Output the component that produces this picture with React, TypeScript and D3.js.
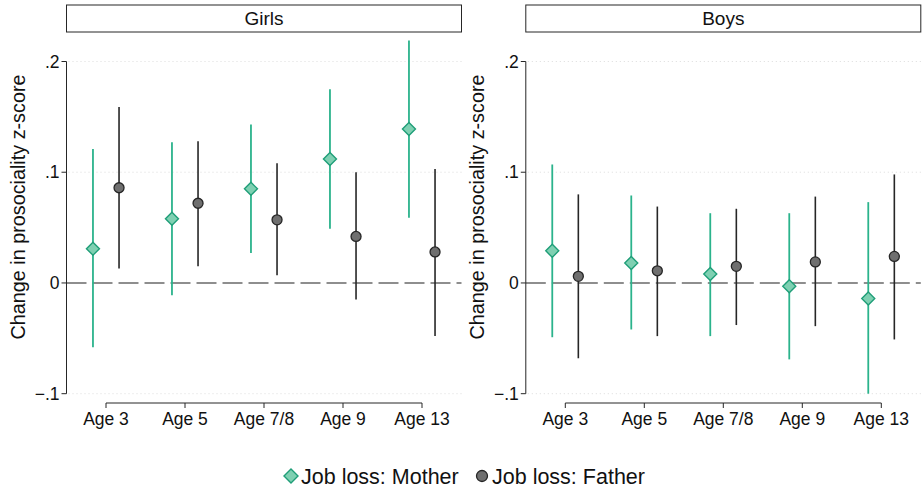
import React from 'react';
import * as d3 from 'd3';

// coefficient plot: job loss effects on prosociality by age, girls vs boys
const ages = ["Age 3", "Age 5", "Age 7/8", "Age 9", "Age 13"];
const yTicks = [-0.1, 0, 0.1, 0.2];
const yTickLabels = ["\u2212.1", "0", ".1", ".2"];

const girlsMotherEst = [0.031, 0.058, 0.085, 0.112, 0.139];
const girlsMotherLo = [-0.058, -0.011, 0.027, 0.049, 0.059];
const girlsMotherHi = [0.121, 0.127, 0.143, 0.175, 0.219];
const girlsFatherEst = [0.086, 0.072, 0.057, 0.042, 0.028];
const girlsFatherLo = [0.013, 0.015, 0.007, -0.015, -0.048];
const girlsFatherHi = [0.159, 0.128, 0.108, 0.100, 0.103];

const boysMotherEst = [0.029, 0.018, 0.008, -0.003, -0.014];
const boysMotherLo = [-0.049, -0.042, -0.048, -0.069, -0.100];
const boysMotherHi = [0.107, 0.079, 0.063, 0.063, 0.073];
const boysFatherEst = [0.006, 0.011, 0.015, 0.019, 0.024];
const boysFatherLo = [-0.068, -0.048, -0.038, -0.039, -0.051];
const boysFatherHi = [0.080, 0.069, 0.067, 0.078, 0.098];

const panels = [
  { title: "Girls", left: 66.5,
    mother: { est: girlsMotherEst, lo: girlsMotherLo, hi: girlsMotherHi },
    father: { est: girlsFatherEst, lo: girlsFatherLo, hi: girlsFatherHi } },
  { title: "Boys", left: 525.8,
    mother: { est: boysMotherEst, lo: boysMotherLo, hi: boysMotherHi },
    father: { est: boysFatherEst, lo: boysFatherLo, hi: boysFatherHi } },
];

const width = 924;
const height = 490;
const panelW = 395;
const font = "'Liberation Sans', Arial, sans-serif";
const green = "#2bb38c";
const greenFill = "#7fd0b2";
const greenStroke = "#1f9e78";
const dark = "#262626";
const grayFill = "#6f6f6f";
const offset = 0.165;

const y = d3.scaleLinear().domain([-0.1, 0.2]).range([393.7, 61.5]);
const axisY = 403;

function Diamond({ cx, cy, r }: { cx: number; cy: number; r: number }) {
  const p = d3.path();
  p.moveTo(cx, cy - r); p.lineTo(cx + r, cy); p.lineTo(cx, cy + r); p.lineTo(cx - r, cy); p.closePath();
  return <path d={p.toString()} fill={greenFill} stroke={greenStroke} strokeWidth={1.4} />;
}

function Panel({ panel }: { panel: any }) {
  const x = d3.scaleLinear().domain([0.5, 5.5]).range([panel.left, panel.left + panelW]);
  const x0 = x(0.5);
  const x1 = x(5.5);
  const labelX = panel.left - 48.5;
  return (
    <g>
      <rect x={x0} y={5} width={x1 - x0} height={27} fill="white" stroke={dark} strokeWidth={1} />
      <text x={(x0 + x1) / 2} y={25} textAnchor="middle" fontSize={19} fontFamily={font} fill="#111">{panel.title}</text>

      {yTicks.map((t) => t === 0 ? null : (
        <line key={"g" + t} x1={x0 + 2} x2={x1} y1={y(t)} y2={y(t)} stroke="#dcdcdc" strokeWidth={1} strokeDasharray="1 3" />
      ))}
      <line x1={x0} x2={x1} y1={y(0)} y2={y(0)} stroke="#6a6a6a" strokeWidth={1.6} strokeDasharray="20 6" />

      <line x1={x0} x2={x0} y1={y(0.2)} y2={y(-0.1)} stroke={dark} strokeWidth={1} />
      {yTicks.map((t, i) => (
        <g key={"t" + t}>
          <line x1={x0 - 5} x2={x0} y1={y(t)} y2={y(t)} stroke={dark} strokeWidth={1} />
          <text x={x0 - 7} y={y(t) + 6} textAnchor="end" fontSize={17.5} fontFamily={font} fill="#111">{yTickLabels[i]}</text>
        </g>
      ))}
      <text transform={`translate(${labelX + 7},207) rotate(-90)`} textAnchor="middle" fontSize={19.8} fontFamily={font} fill="#111">
        Change in prosociality z-score
      </text>

      <line x1={x(1)} x2={x(5)} y1={axisY} y2={axisY} stroke={dark} strokeWidth={1} />
      {ages.map((a, i) => (
        <g key={a}>
          <line x1={x(i + 1)} x2={x(i + 1)} y1={axisY} y2={axisY + 5} stroke={dark} strokeWidth={1} />
          <text x={x(i + 1)} y={axisY + 21.5} textAnchor="middle" fontSize={17.5} fontFamily={font} fill="#111">{a}</text>
        </g>
      ))}

      {ages.map((a, i) => (
        <g key={"m" + a}>
          <line x1={x(i + 1 - offset)} x2={x(i + 1 - offset)} y1={y(panel.mother.lo[i])} y2={y(panel.mother.hi[i])} stroke={green} strokeWidth={1.8} />
          <line x1={x(i + 1 + offset)} x2={x(i + 1 + offset)} y1={y(panel.father.lo[i])} y2={y(panel.father.hi[i])} stroke={dark} strokeWidth={1.6} />
        </g>
      ))}
      {ages.map((a, i) => (
        <g key={"p" + a}>
          <Diamond cx={x(i + 1 - offset)} cy={y(panel.mother.est[i])} r={6.5} />
          <circle cx={x(i + 1 + offset)} cy={y(panel.father.est[i])} r={5} fill={grayFill} stroke={dark} strokeWidth={1.3} />
        </g>
      ))}
    </g>
  );
}

export default function App() {
  return (
    <svg width={width} height={height} style={{ position: "absolute", left: 0, top: 0, background: "white" }}>
      <rect width={width} height={height} fill="white" />
      {panels.map((p) => <Panel key={p.title} panel={p} />)}
      <g>
        <Diamond cx={291} cy={476} r={7} />
        <text x={301} y={483.5} fontSize={21.5} fontFamily={font} fill="#111">Job loss: Mother</text>
        <circle cx={482} cy={476} r={5.5} fill={grayFill} stroke={dark} strokeWidth={1.3} />
        <text x={492} y={483.5} fontSize={21.5} fontFamily={font} fill="#111">Job loss: Father</text>
      </g>
    </svg>
  );
}
